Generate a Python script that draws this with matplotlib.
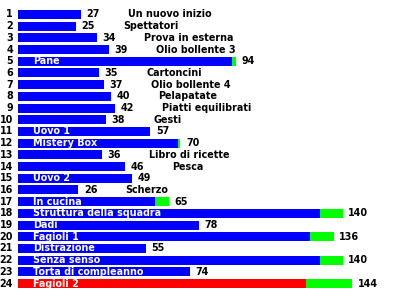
import matplotlib
matplotlib.use("Agg")
import matplotlib.pyplot as plt
from matplotlib.transforms import offset_copy

names = ["Un nuovo inizio", "Spettatori", "Prova in esterna", "Olio bollente 3", "Pane",
         "Cartoncini", "Olio bollente 4", "Pelapatate", "Piatti equilibrati", "Gesti",
         "Uovo 1", "Mistery Box", "Libro di ricette", "Pesca", "Uovo 2", "Scherzo",
         "In cucina", "Struttura della squadra", "Dadi", "Fagioli 1", "Distrazione",
         "Senza senso", "Torta di compleanno", "Fagioli 2"]
base = [27, 25, 34, 39, 92, 35, 37, 40, 42, 38, 57, 69, 36, 46, 49, 26,
        59, 130, 78, 126, 55, 130, 74, 124]
extra = [0, 0, 0, 0, 2, 0, 0, 0, 0, 0, 0, 1, 0, 0, 0, 0,
         6, 10, 0, 10, 0, 10, 0, 20]
totals = [b + e for b, e in zip(base, extra)]
base_colors = ["#0000ff"] * 23 + ["#ff0000"]

fig = plt.figure(figsize=(4, 3), dpi=100)
ax = fig.add_axes([0.045, 0.0355, 0.955, 0.9357])
rows = list(range(1, len(names) + 1))
ax.barh(rows, base, height=0.77, color=base_colors, edgecolor="none")
ax.barh(rows, extra, left=base, height=0.77, color="#00ff00", edgecolor="none")
ax.set_xlim(0, 164.6)
ax.set_ylim(24.5, 0.5)
ax.axis("off")

fs = 6.9
font = dict(fontsize=fs, fontweight="bold", family="DejaVu Sans", va="center")
for r, n, t in zip(rows, names, totals):
    ax.text(t, r, str(t), transform=offset_copy(ax.transData, fig=fig, x=5.5, y=0, units="dots"),
            ha="left", color="black", **font)
    if t >= 48:
        ax.text(0, r, n, transform=offset_copy(ax.transData, fig=fig, x=15, y=0, units="dots"),
                ha="left", color="white", **font)
    else:
        ax.text(t, r, n, transform=offset_copy(ax.transData, fig=fig, x=47, y=0, units="dots"),
                ha="left", color="black", **font)
    ax.text(0, r, str(r), transform=offset_copy(ax.transData, fig=fig, x=-5, y=0, units="dots"),
            ha="right", color="black", **font)

fig.savefig("out.png", dpi=100)
